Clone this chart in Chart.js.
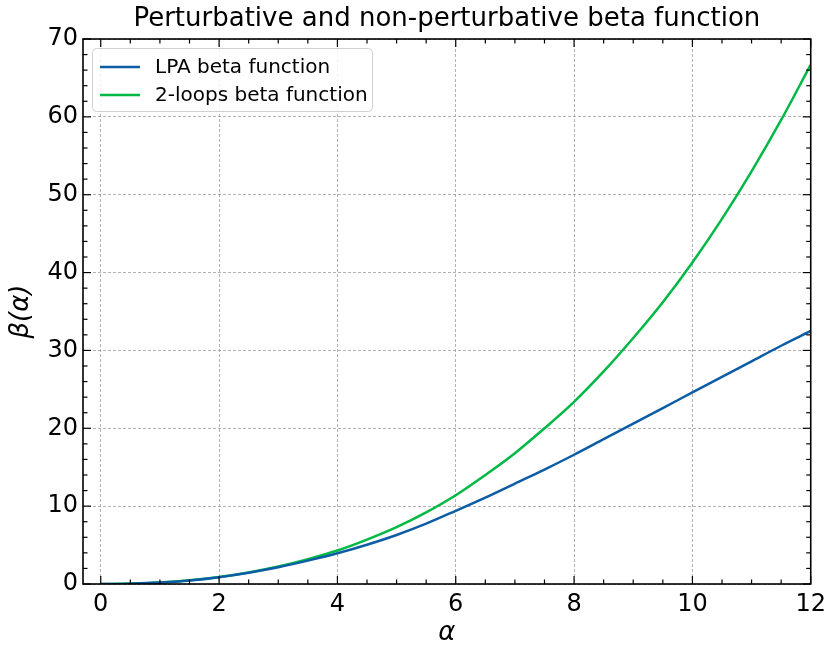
<!DOCTYPE html>
<html><head><meta charset="utf-8">
<script src="https://cdn.jsdelivr.net/npm/chart.js@4.4.0/dist/chart.umd.min.js"></script>
<style>html,body{margin:0;padding:0;background:#fff}</style>
</head><body>
<canvas id="c" width="832" height="646"></canvas>
<script>
const alphaValues = [0,0.5,1,1.5,2,2.5,3,3.5,4,4.5,5,5.5,6,6.5,7,7.5,8,8.5,9,9.5,10,10.5,11,11.5,12];
const lpaBeta     = [0,0.04,0.18,0.45,0.88,1.45,2.15,3.0,3.95,5.05,6.3,7.75,9.4,11.1,12.9,14.7,16.6,18.6,20.6,22.6,24.6,26.6,28.6,30.6,32.5];
const twoLoopBeta = [0,0.05,0.2,0.48,0.9,1.48,2.24,3.19,4.3,5.7,7.3,9.2,11.4,14.0,16.8,20.0,23.4,27.3,31.6,36.2,41.3,46.9,53.0,59.6,66.7];
const xTicks = [0,2,4,6,8,10,12];
const yTicks = [0,10,20,30,40,50,60,70];
const seriesLabels = ['LPA beta function','2-loops beta function'];
const seriesColors = ['#0C5DA5','#00B945'];

const FONT = 'DejaVu Sans';

const framePlugin = {
  id:'frame',
  afterDatasetsDraw(chart){
    const {ctx, chartArea:a, scales:{x,y}} = chart;
    ctx.save();
    ctx.strokeStyle = '#000';
    ctx.lineWidth = 1.2;
    const tick = (x1,y1,x2,y2)=>{ctx.beginPath();ctx.moveTo(x1,y1);ctx.lineTo(x2,y2);ctx.stroke();};
    for(let v=0; v<=12.0001; v+=0.5){
      const px = x.getPixelForValue(v);
      const major = xTicks.includes(v);
      const L = major?8:4.5;
      tick(px,a.bottom,px,a.bottom-L);
      tick(px,a.top,px,a.top+L);
    }
    for(let v=0; v<=70.0001; v+=2){
      const py = y.getPixelForValue(v);
      const major = yTicks.includes(v);
      const L = major?8:4.5;
      tick(a.left,py,a.left+L,py);
      tick(a.right,py,a.right-L,py);
    }
    ctx.lineWidth = 1.6;
    ctx.strokeRect(a.left,a.top,a.right-a.left,a.bottom-a.top);
    ctx.restore();
  },
  afterDraw(chart){
    const {ctx, chartArea:a} = chart;
    ctx.save();
    const bx = a.left+9, by = a.top+9, bw = 280, bh = 63;
    ctx.fillStyle = 'rgba(255,255,255,0.85)';
    ctx.strokeStyle = '#d0d0d0';
    ctx.lineWidth = 1;
    ctx.beginPath();
    ctx.roundRect(bx+0.5,by+0.5,bw,bh,4);
    ctx.fill(); ctx.stroke();
    ctx.font = '20px "'+FONT+'"';
    ctx.textBaseline = 'middle';
    ctx.textAlign = 'left';
    seriesLabels.forEach((lab,i)=>{
      const ly = by + 19 + i*28;
      ctx.strokeStyle = seriesColors[i];
      ctx.lineWidth = 2.5;
      ctx.beginPath(); ctx.moveTo(bx+8,ly); ctx.lineTo(bx+48,ly); ctx.stroke();
      ctx.fillStyle = '#000';
      ctx.fillText(lab, bx+63, ly+1);
    });
    ctx.restore();
  }
};

new Chart(document.getElementById('c'), {
  type:'line',
  data:{datasets:[
    {label:seriesLabels[0], data:alphaValues.map((a,i)=>({x:a,y:lpaBeta[i]})), borderColor:seriesColors[0], borderWidth:2.5, pointRadius:0, cubicInterpolationMode:'monotone', fill:false},
    {label:seriesLabels[1], data:alphaValues.map((a,i)=>({x:a,y:twoLoopBeta[i]})), borderColor:seriesColors[1], borderWidth:2.5, pointRadius:0, cubicInterpolationMode:'monotone', fill:false}
  ]},
  options:{
    responsive:false, animation:false, devicePixelRatio:1,
    layout:{padding:{left:0,right:18,top:0,bottom:0}},
    plugins:{
      legend:{display:false}, tooltip:{enabled:false},
      title:{display:true, fullSize:false, text:'Perturbative and non-perturbative beta function', color:'#000',
        font:{family:FONT, size:26, weight:'normal', lineHeight:1.2}, padding:{top:4,bottom:3.8}}
    },
    scales:{
      x:{type:'linear', min:-0.3, max:12,
        afterBuildTicks:s=>{s.ticks = xTicks.map(v=>({value:v}));},
        afterFit:s=>{s.height = 62;},
        ticks:{color:'#000', font:{family:FONT,size:24}, padding:6, maxRotation:0, autoSkip:false},
        grid:{color:'#a0a0a0', lineWidth:0.8, drawTicks:false},
        border:{display:false, dash:[3,2]},
        title:{display:true, text:'α', color:'#000', font:{family:FONT,size:26,style:'italic',lineHeight:1}, padding:{top:0,bottom:0}}
      },
      y:{type:'linear', min:0, max:70,
        afterBuildTicks:s=>{s.ticks = yTicks.map(v=>({value:v}));},
        afterFit:s=>{s.width = 83;},
        ticks:{color:'#000', font:{family:FONT,size:24}, padding:5, autoSkip:false},
        grid:{color:'#a0a0a0', lineWidth:0.8, drawTicks:false},
        border:{display:false, dash:[3,2]},
        title:{display:true, text:'β(α)', color:'#000', font:{family:FONT,size:26,style:'italic'}, padding:{top:6,bottom:0}}
      }
    }
  },
  plugins:[framePlugin]
});
</script>
</body></html>
